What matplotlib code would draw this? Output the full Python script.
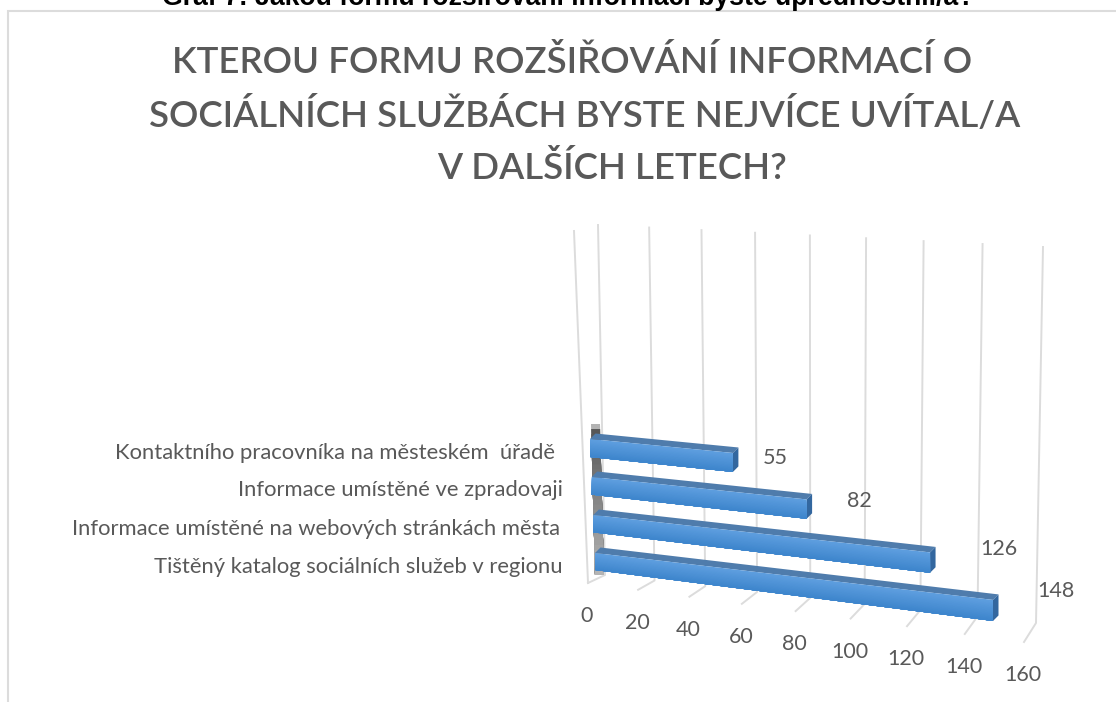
# plot.py
import numpy as np
import matplotlib
matplotlib.use("Agg")
import matplotlib.pyplot as plt
from matplotlib.patches import Polygon

caption = "Graf 7: Jakou formu rozšiřování informací byste upřednostnil/a?"
title_lines = ["KTEROU FORMU ROZŠIŘOVÁNÍ INFORMACÍ O",
               "SOCIÁLNÍCH SLUŽBÁCH BYSTE NEJVÍCE UVÍTAL/A",
               "V DALŠÍCH LETECH?"]

# back to front, the last one sits closest to the floor
categories = ["Kontaktního pracovníka na městeském  úřadě ",
              "Informace umístěné ve zpradovaji",
              "Informace umístěné na webových stránkách města",
              "Tištěný katalog sociálních služeb v regionu"]
values = [55, 82, 126, 148]
ticks = [0, 20, 40, 60, 80, 100, 120, 140, 160]

GRAY = "#595959"
GRID = "#dcdcdc"
VMAX = 160
PERSP = 1.1


def warp(v):
    # perspective squeeze along the value axis
    t = np.asarray(v, dtype=float) / VMAX
    return t / (t + PERSP * (1 - t))


def lerp(a, b, s):
    return a + (b - a) * s


def wall(v, c, d):
    # c = 0 floor, c = 1 top of wall, d = 0 front, d = 1 back
    s = warp(v)
    x0 = lerp(lerp(588, 574, c), lerp(605, 598, c), d)
    y0 = lerp(lerp(583, 231, c), lerp(575, 225, c), d)
    x1 = lerp(lerp(1024, 1030, c), lerp(1036, 1043, c), d)
    y1 = lerp(lerp(642, 250, c), lerp(623, 247, c), d)
    return lerp(x0, x1, s), lerp(y0, y1, s)


def bar_front(v, row, h):
    # front plane of the bars, row 0 is the furthest back, h = 0 top, h = 1 bottom
    s = warp(v)
    x0 = lerp(590, 595, row / 3)
    x1 = lerp(1033, 1028.5, row / 3)
    top0 = 439 + 38 * row
    top1 = 482.3 + 40.6 * row
    y0 = top0 + lerp(18, 17, row / 3) * h
    y1 = top1 + lerp(21, 21.4, row / 3) * h
    return lerp(x0, x1, s), lerp(y0, y1, s)


fig = plt.figure(figsize=(11.16, 7.02), dpi=100)
ax = fig.add_axes([0, 0, 1, 1])
ax.set_xlim(0, 1116)
ax.set_ylim(702, 0)
ax.axis("off")

# chart border, cut off by the page on the bottom
ax.plot([8, 8, 1116], [702, 11, 11], color="#dcdcdc", lw=1.5, solid_joinstyle="miter")

ax.text(568.5, 5, caption, family="Liberation Sans", weight="bold", fontsize=19.2,
        color="black", ha="center", va="baseline")

title_x = [572, 585, 612]
title_y = [62, 115, 168]
for line, tx, ty in zip(title_lines, title_x, title_y):
    ax.text(tx, ty, line, family="Lato", weight="semibold", fontsize=26.4, color=GRAY,
            ha="center", va="center")

# gridlines on the back wall and the floor
for t in ticks:
    bx, by = wall(t, 0, 1)
    tx, ty = wall(t, 1, 1)
    fx, fy = wall(t, 0, 0)
    ax.plot([tx, bx, fx], [ty, by, fy], color=GRID, lw=1.4, solid_joinstyle="round")
    ax.text(fx - 1, fy + 33, str(t), family="Lato", fontsize=15.5, color=GRAY,
            ha="center", va="center")

# edge of the side wall
fx0, fy0 = wall(0, 0, 0)
fx1, fy1 = wall(0, 1, 0)
ax.plot([fx1, fx0], [fy1, fy0], color=GRID, lw=1.4)

# dark shade on the wall behind the bars, painted top down so no seams show
steps = 30
for i in range(steps):
    a = i / steps
    y_a = lerp(424, 575, a)
    shade = lerp(0.33, 0.72, a)
    if i == 0:
        shade = 0.7
    ax.add_patch(Polygon([[lerp(591, 595, a), y_a], [lerp(600, 604, a), y_a],
                          [604, 575], [595, 575]],
                         closed=True, fc=str(shade), ec="none", zorder=2))

# bars
dep_x, dep_y = 5.5, -5.5
top_col = "#4f7cac"
side_col = "#33679f"
grad_a = np.array(matplotlib.colors.to_rgb("#5f9fe0"))
grad_b = np.array(matplotlib.colors.to_rgb("#3d85cc"))
label_dx = [42, 53, 69, 63]
label_dy = [5, 2, -3, -9]
for row, val in enumerate(values):
    lt = bar_front(0, row, 0)
    rt = bar_front(val, row, 0)
    rb = bar_front(val, row, 1)
    ax.add_patch(Polygon([lt, rt, (rt[0] + dep_x, rt[1] + dep_y), (lt[0] + dep_x, lt[1] + dep_y)],
                         closed=True, fc=top_col, ec="none", zorder=3))
    ax.add_patch(Polygon([rt, rb, (rb[0] + dep_x, rb[1] + dep_y), (rt[0] + dep_x, rt[1] + dep_y)],
                         closed=True, fc=side_col, ec="none", zorder=3))
    n = 16
    for i in range(n):
        h0 = i / n
        col = lerp(grad_a, grad_b, h0 + 0.5 / n)
        ax.add_patch(Polygon([bar_front(0, row, h0), bar_front(val, row, h0),
                              bar_front(val, row, 1), bar_front(0, row, 1)],
                             closed=True, fc=col, ec="none", zorder=4))
    ax.text(rt[0] + label_dx[row], rt[1] + label_dy[row], str(val), family="Lato",
            fontsize=15.5, color=GRAY, ha="center", va="center", zorder=5)

label_right = [555, 563, 560, 562]
label_y = [453, 490, 529, 567]
for name, lx, ly in zip(categories, label_right, label_y):
    ax.text(lx, ly, name.rstrip(), family="Lato", fontsize=15.8, color=GRAY,
            ha="right", va="center")

plt.savefig("out.png", dpi=100)
